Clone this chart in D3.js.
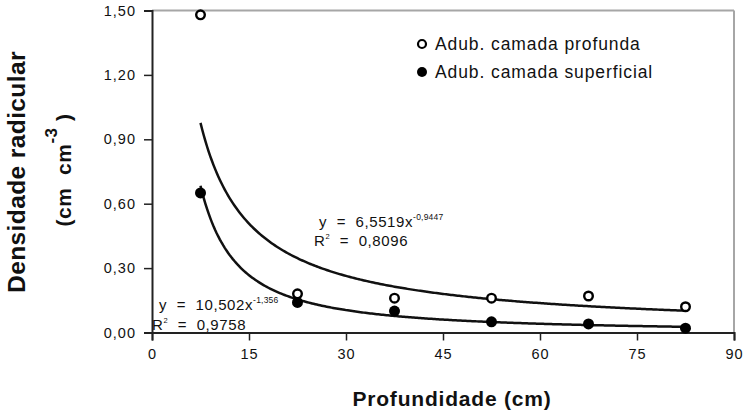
<!DOCTYPE html>
<html><head><meta charset="utf-8">
<script src="https://cdn.jsdelivr.net/npm/d3@7/dist/d3.min.js"></script>
<style>body{margin:0;background:#fff}svg{display:block}text{font-family:"Liberation Sans",Arial,sans-serif}</style>
</head><body>
<script>
const depths = [7.5, 22.5, 37.5, 52.5, 67.5, 82.5];
const profunda = [1.48, 0.18, 0.16, 0.16, 0.17, 0.12];
const superficial = [0.65, 0.14, 0.10, 0.05, 0.04, 0.02];
const fitProfunda = [6.5519, -0.9447];
const fitSuperficial = [10.502, -1.356];
const xTicks = [0, 15, 30, 45, 60, 75, 90];
const yTicks = [0, 0.30, 0.60, 0.90, 1.20, 1.50];

const W = 744, H = 412;
const svg = d3.select("body").append("svg").attr("width", W).attr("height", H);
const x = d3.scaleLinear().domain([0, 90]).range([152, 734]);
const y = d3.scaleLinear().domain([0, 1.5]).range([332.5, 10.5]);
const fmt = v => d3.format(".2f")(v).replace(".", ",");

// frame (top/right gray)
svg.append("line").attr("x1", x(0)).attr("x2", x(90)).attr("y1", y(1.5)).attr("y2", y(1.5)).attr("stroke", "#a6a6a6").attr("stroke-width", 2);
svg.append("line").attr("x1", x(90)).attr("x2", x(90)).attr("y1", y(1.5)).attr("y2", y(0)).attr("stroke", "#a6a6a6").attr("stroke-width", 2);

const xAxis = svg.append("g").attr("transform", `translate(0,${y(0)})`)
  .call(d3.axisBottom(x).tickValues(xTicks).tickSize(8).tickPadding(6).tickFormat(d3.format("d")));
const yAxis = svg.append("g").attr("transform", `translate(${x(0)},0)`)
  .call(d3.axisLeft(y).tickValues(yTicks).tickSize(8).tickPadding(8).tickFormat(fmt));
[xAxis, yAxis].forEach(g => {
  g.select(".domain").attr("stroke", "#222").attr("stroke-width", 2);
  g.selectAll(".tick line").attr("stroke", "#222").attr("stroke-width", 1.5);
  g.selectAll(".tick text").attr("font-size", 14.5).attr("fill", "#111").style("letter-spacing", "1px");
});
xAxis.selectAll(".tick text").attr("dy", "0.85em");

// fitted curves
const line = d3.line().x(d => x(d[0])).y(d => y(d[1])).curve(d3.curveLinear);
function curve(fit) {
  const pts = [];
  for (let i = 0; i <= 300; i++) {
    const xv = depths[0] + (depths[depths.length - 1] - depths[0]) * i / 300;
    pts.push([xv, fit[0] * Math.pow(xv, fit[1])]);
  }
  return pts;
}
[fitProfunda, fitSuperficial].forEach(f => {
  svg.append("path").attr("d", line(curve(f))).attr("fill", "none").attr("stroke", "#111").attr("stroke-width", 2.5);
});

// points
svg.selectAll(".sup").data(depths).enter().append("circle")
  .attr("cx", d => x(d)).attr("cy", (d, i) => y(superficial[i])).attr("r", 5.5).attr("fill", "#000");
svg.selectAll(".pro").data(depths).enter().append("circle")
  .attr("cx", d => x(d)).attr("cy", (d, i) => y(profunda[i])).attr("r", 4.3)
  .attr("fill", "#fff").attr("stroke", "#000").attr("stroke-width", 2.4);

// legend
svg.append("circle").attr("cx", 422).attr("cy", 44).attr("r", 4).attr("fill", "#fff").attr("stroke", "#000").attr("stroke-width", 2.2);
svg.append("circle").attr("cx", 422).attr("cy", 72).attr("r", 5).attr("fill", "#000");
svg.append("text").attr("x", 435).attr("y", 50).attr("font-size", 17.5).attr("fill", "#111").style("letter-spacing", "0.9px").text("Adub. camada profunda");
svg.append("text").attr("x", 435).attr("y", 78).attr("font-size", 17.5).attr("fill", "#111").style("letter-spacing", "0.9px").text("Adub. camada superficial");

// equations
function eq(xp, yp, coef, exp) {
  const t = svg.append("text").attr("x", xp).attr("y", yp).attr("font-size", 15).attr("fill", "#111").style("white-space", "pre").style("letter-spacing", "0.6px");
  t.append("tspan").text("y  =  " + coef + "x");
  t.append("tspan").attr("font-size", 8.5).attr("dy", -7).style("letter-spacing", "0.2px").text(exp);
}
function r2(xp, yp, val) {
  const t = svg.append("text").attr("x", xp).attr("y", yp).attr("font-size", 15).attr("fill", "#111").style("white-space", "pre").style("letter-spacing", "0.6px");
  t.append("tspan").text("R");
  t.append("tspan").attr("font-size", 7.5).attr("dy", -7).text("2");
  t.append("tspan").attr("dy", 7).text("  =  " + val);
}
eq(319, 227, "6,5519", "-0,9447");
r2(314, 246, "0,8096");
eq(159, 310, "10,502", "-1,356");
r2(152, 330, "0,9758");

// axis titles
svg.append("text").attr("x", 452).attr("y", 406).attr("text-anchor", "middle").attr("font-size", 21).attr("font-weight", "bold").attr("fill", "#111").style("letter-spacing", "0.8px").text("Profundidade (cm)");
svg.append("text").attr("transform", "translate(25,172) rotate(-90)").attr("text-anchor", "middle").attr("font-size", 24.5).attr("font-weight", "bold").attr("fill", "#111").style("letter-spacing", "0.4px").text("Densidade radicular");
const t2 = svg.append("text").attr("transform", "translate(71,170) rotate(-90)").attr("text-anchor", "middle").attr("font-size", 21).attr("font-weight", "bold").attr("fill", "#111").style("white-space", "pre").style("letter-spacing", "0.5px");
t2.append("tspan").text("(cm  cm");
t2.append("tspan").attr("font-size", 17).attr("dy", -14).text("-3");
t2.append("tspan").attr("dy", 14).text(" )");
</script>
</body></html>
